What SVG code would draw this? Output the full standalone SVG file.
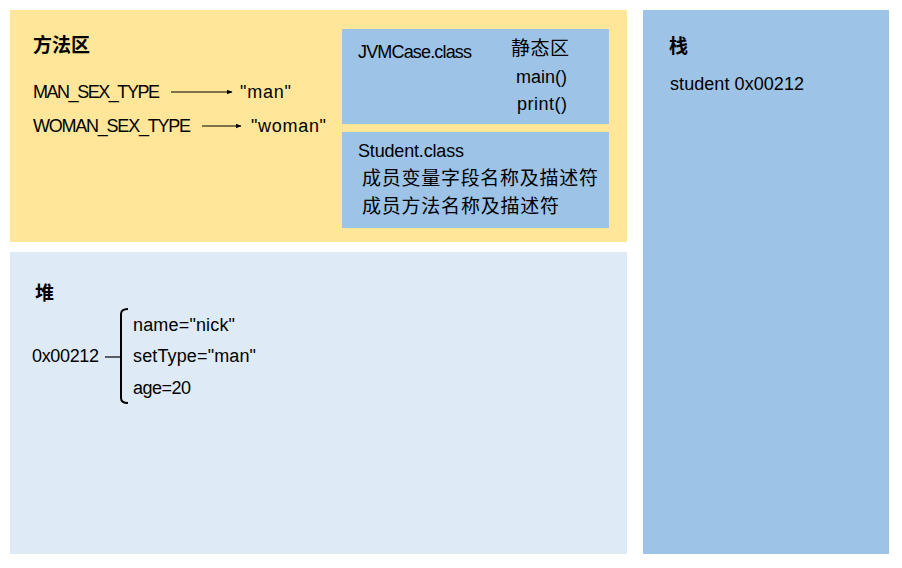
<svg xmlns="http://www.w3.org/2000/svg" width="902" height="568" viewBox="0 0 902 568">
  <style>
    .t { font-family: "Liberation Sans", "Noto Sans CJK SC", sans-serif; font-size: 18px; fill: #000; }
    .cn { font-family: "Noto Sans CJK SC", sans-serif; font-size: 19px; fill: #000; }
    .h { font-family: "Noto Sans CJK SC", sans-serif; font-size: 19px; font-weight: bold; fill: #000; }
    .ln { stroke: #000; stroke-width: 1.2; fill: none; }
    .br { stroke: #000; stroke-width: 2; fill: none; }
  </style>
  <defs>
    <marker id="arr" viewBox="0 0 10 10" refX="9" refY="5" markerWidth="5" markerHeight="5" orient="auto">
      <path d="M0,1 L10,5 L0,9 Z" fill="#000"/>
    </marker>
  </defs>

  <rect width="902" height="568" fill="#fff"/>

  <!-- method area -->
  <g id="method-area">
    <rect x="10" y="10" width="617" height="232" fill="#FFE699"/>
    <text class="h" x="33" y="52">方法区</text>
    <text class="t" x="33" y="98" textLength="127">MAN_SEX_TYPE</text>
    <text class="t" x="240" y="98" textLength="51">"man"</text>
    <text class="t" x="33" y="132" textLength="158">WOMAN_SEX_TYPE</text>
    <text class="t" x="251" y="132" textLength="75">"woman"</text>
  </g>

  <g id="jvmcase-class">
    <rect x="342" y="29" width="267" height="95" fill="#9DC3E6"/>
    <text class="t" x="358" y="58" textLength="114">JVMCase.class</text>
    <text class="cn" x="511" y="55" textLength="58">静态区</text>
    <text class="t" x="516" y="83" textLength="51">main()</text>
    <text class="t" x="517" y="110" textLength="50">print()</text>
  </g>

  <g id="student-class">
    <rect x="342" y="132" width="267" height="96" fill="#9DC3E6"/>
    <text class="t" x="358" y="157" textLength="106">Student.class</text>
    <text class="cn" x="362" y="185" textLength="236">成员变量字段名称及描述符</text>
    <text class="cn" x="362" y="213" textLength="197">成员方法名称及描述符</text>
  </g>

  <!-- heap -->
  <g id="heap">
    <rect x="10" y="252" width="617" height="302" fill="#DEEBF7"/>
    <text class="h" x="35" y="300">堆</text>
    <text class="t" x="32" y="362" textLength="67">0x00212</text>
    <text class="t" x="133" y="331" textLength="102">name="nick"</text>
    <text class="t" x="133" y="362" textLength="123">setType="man"</text>
    <text class="t" x="133" y="394" textLength="58">age=20</text>
  </g>

  <!-- stack -->
  <g id="stack">
    <rect x="643" y="10" width="246" height="544" fill="#9DC3E6"/>
    <text class="h" x="669" y="53">栈</text>
    <text class="t" x="670" y="90" textLength="134">student 0x00212</text>
  </g>

  <g id="connectors">
    <line class="ln" x1="171" y1="92" x2="232" y2="92" marker-end="url(#arr)"/>
    <line class="ln" x1="202" y1="126" x2="241" y2="126" marker-end="url(#arr)"/>
    <line class="ln" x1="105" y1="357" x2="121" y2="357"/>
    <path class="br" d="M128,309 Q121,309 121,314 L121,398 Q121,403 128,403"/>
  </g>
</svg>
